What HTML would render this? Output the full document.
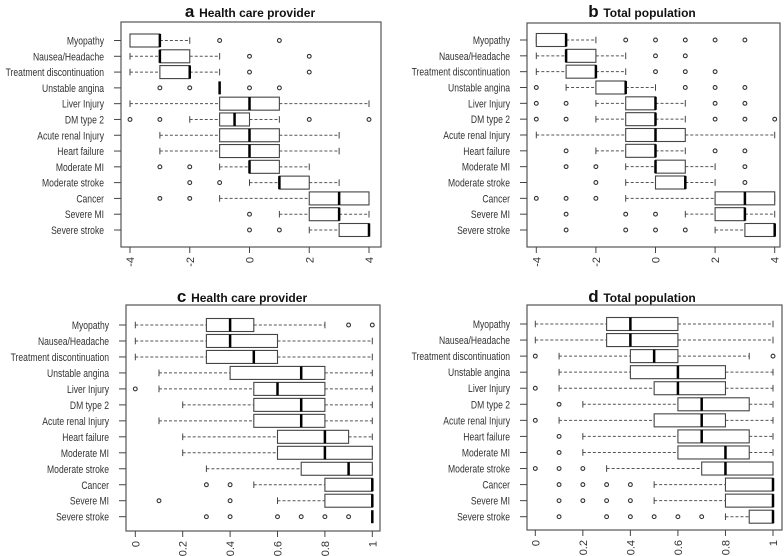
<!DOCTYPE html>
<html><head><meta charset="utf-8"><style>
body{margin:0;background:#fff;}
svg{display:block;font-family:"Liberation Sans",Arial,sans-serif;}
</style></head><body>
<svg id="chart" width="784" height="556" viewBox="0 0 784 556"></svg>
<script>
const categories = ["Myopathy","Nausea/Headache","Treatment discontinuation","Unstable angina","Liver Injury","DM type 2","Acute renal Injury","Heart failure","Moderate MI","Moderate stroke","Cancer","Severe MI","Severe stroke"];
// [lowWhisker, q1, median, q3, highWhisker]
const statsA = [[-4,-4,-3,-3,-2],[-4,-3,-3,-2,-1],[-4,-3,-2,-2,-1],[-1,-1,-1,-1,-1],[-4,-1,0,1,4],[-2,-1,-0.5,0,1],[-3,-1,0,1,3],[-3,-1,0,1,3],[-1,0,0,1,2],[0,1,1,2,3],[-1,2,3,4,4],[1,2,3,3,4],[2,3,4,4,4]];
const outliersA = [[-1,1],[0,2],[0,2],[-3,-2,0,1],[],[-4,-3,2,4],[],[],[-3,-2],[-2,-1],[-3,-2],[0],[0,1]];
const statsB = [[-4,-4,-3,-3,-2],[-4,-3,-3,-2,-1],[-4,-3,-2,-2,-1],[-3,-2,-1,-1,0],[-2,-1,0,0,1],[-2,-1,0,0,1],[-4,-1,0,1,4],[-2,-1,0,0,1],[-1,0,0,1,2],[-1,0,1,1,2],[-1,2,3,4,4],[1,2,3,3,4],[2,3,4,4,4]];
const outliersB = [[-1,0,1,2,3],[0,1],[0,1,2],[-4,1,2,3],[-4,-3,2,3],[-4,-3,2,3,4],[],[-3,2,3],[-3,-2,3],[-2,3],[-4,-3,-2],[-3,-1,0],[-3,-1,0,1]];
const statsC = [[0,0.3,0.4,0.5,0.8],[0,0.3,0.4,0.6,1],[0,0.3,0.5,0.6,1],[0.1,0.4,0.7,0.8,1],[0.1,0.5,0.6,0.8,1],[0.2,0.5,0.7,0.8,1],[0.1,0.5,0.7,0.8,1],[0.2,0.6,0.8,0.9,1],[0.2,0.6,0.8,1,1],[0.3,0.7,0.9,1,1],[0.5,0.8,1,1,1],[0.6,0.8,1,1,1],[1,1,1,1,1]];
const outliersC = [[0.9,1],[],[],[],[0],[],[],[],[],[],[0.3,0.4],[0.1,0.4],[0.3,0.4,0.6,0.7,0.8,0.9]];
const statsD = [[0,0.3,0.4,0.6,1],[0,0.3,0.4,0.6,1],[0.1,0.4,0.5,0.6,0.9],[0.1,0.4,0.6,0.8,1],[0.1,0.5,0.6,0.8,1],[0.2,0.6,0.7,0.9,1],[0.1,0.5,0.7,0.8,1],[0.2,0.6,0.7,0.9,1],[0.2,0.6,0.8,0.9,1],[0.3,0.7,0.8,1,1],[0.5,0.8,1,1,1],[0.5,0.8,1,1,1],[0.8,0.9,1,1,1]];
const outliersD = [[],[],[0,1],[],[0],[0.1],[0],[0.1],[0.1],[0,0.1,0.2],[0.1,0.2,0.3,0.4],[0.1,0.2,0.3,0.4],[0.1,0.3,0.4,0.5,0.6,0.7]];
const ticksTop = [-4,-2,0,2,4];
const tickLabelsTop = ["-4","-2","0","2","4"];
const ticksBottom = [0,0.2,0.4,0.6,0.8,1];
const tickLabelsBottom = ["0","0.2","0.4","0.6","0.8","1"];

const NS="http://www.w3.org/2000/svg";
const svg=document.getElementById('chart');
function mk(tag,attrs,parent){const e=document.createElementNS(NS,tag);for(const k in attrs)e.setAttribute(k,attrs[k]);(parent||svg).appendChild(e);return e;}

function panel(cfg){
  const g=mk('g',{});
  
  
  const xs=v=>cfg.x0+(v-cfg.d0)/(cfg.d1-cfg.d0)*(cfg.x1-cfg.x0);
  const ys=i=>cfg.yTop+i*(cfg.yBot-cfg.yTop)/(categories.length-1);
  const t=mk('text',{x:cfg.tx,y:cfg.ty,'text-anchor':'middle','font-weight':'bold',fill:'#111'},g);
  
  
  const l=mk('tspan',{'font-size':'17'},t);l.textContent=cfg.letter+' ';
  const r=mk('tspan',{'font-size':'12'},t);r.textContent=cfg.title;
  const fr=mk('rect',{x:cfg.bx0,y:cfg.by0,width:cfg.bx1-cfg.bx0,height:cfg.by1-cfg.by0,fill:'none',stroke:'#555','stroke-width':1.2},g);
  
  
  const h=6.5;
  categories.forEach((c,i)=>{
    const y=ys(i);const s=cfg.stats[i];
    const lab=mk('text',{x:0,y:0,'text-anchor':'end','font-size':'11',fill:'#333',transform:`translate(${cfg.bx0-17} ${y+4}) scale(0.78 1)`},g);
    lab.textContent=c;
    
    
    mk('line',{x1:cfg.bx0-7,x2:cfg.bx0,y1:y,y2:y,stroke:'#444'},g);
    const bg=mk('g',{},g);
    
    
    mk('line',{x1:xs(s[0]),x2:xs(s[1]),y1:y,y2:y,stroke:'#555','stroke-dasharray':'3,2'},bg);
    mk('line',{x1:xs(s[3]),x2:xs(s[4]),y1:y,y2:y,stroke:'#555','stroke-dasharray':'3,2'},bg);
    mk('line',{x1:xs(s[0]),x2:xs(s[0]),y1:y-3.3,y2:y+3.3,stroke:'#444'},bg);
    mk('line',{x1:xs(s[4]),x2:xs(s[4]),y1:y-3.3,y2:y+3.3,stroke:'#444'},bg);
    mk('rect',{x:xs(s[1]),y:y-h,width:Math.max(0,xs(s[3])-xs(s[1])),height:2*h,fill:'#fff',stroke:'#444','stroke-width':1.1},bg);
    mk('line',{x1:xs(s[2]),x2:xs(s[2]),y1:y-h,y2:y+h,stroke:'#000','stroke-width':2.5},bg);
    cfg.out[i].forEach(v=>{
      const o=mk('circle',{cx:xs(v),cy:y,r:1.9,fill:'none',stroke:'#333','stroke-width':1.1},bg);
      
      
    });
  });
  cfg.ticks.forEach((v,k)=>{
    const x=xs(v);
    mk('line',{x1:x,x2:x,y1:cfg.by1,y2:cfg.by1+6,stroke:'#444'},g);
    const tl=mk('text',{x:x+4,y:cfg.by1+10,'text-anchor':'end','font-size':'11',fill:'#333',transform:`rotate(-90 ${x+4} ${cfg.by1+10})`},g);
    tl.textContent=cfg.labels[k];
    
    
  });
}
panel({name:'panel-a',letter:'a',title:'Health care provider',tx:250,ty:17,bx0:121,bx1:381,by0:22,by1:247,x0:130,x1:369,d0:-4,d1:4,yTop:40.5,yBot:230,stats:statsA,out:outliersA,ticks:ticksTop,labels:tickLabelsTop});
panel({name:'panel-b',letter:'b',title:'Total population',tx:642,ty:17,bx0:527,bx1:780,by0:23,by1:247,x0:536.3,x1:774.7,d0:-4,d1:4,yTop:40,yBot:230,stats:statsB,out:outliersB,ticks:ticksTop,labels:tickLabelsTop});
panel({name:'panel-c',letter:'c',title:'Health care provider',tx:242,ty:302,bx0:126,bx1:380,by0:305,by1:531,x0:135.3,x1:372.3,d0:0,d1:1,yTop:325,yBot:516.7,stats:statsC,out:outliersC,ticks:ticksBottom,labels:tickLabelsBottom});
panel({name:'panel-d',letter:'d',title:'Total population',tx:642,ty:302,bx0:527,bx1:782,by0:305,by1:530,x0:535.3,x1:773,d0:0,d1:1,yTop:324,yBot:516.7,stats:statsD,out:outliersD,ticks:ticksBottom,labels:tickLabelsBottom});
</script>
</body></html>
